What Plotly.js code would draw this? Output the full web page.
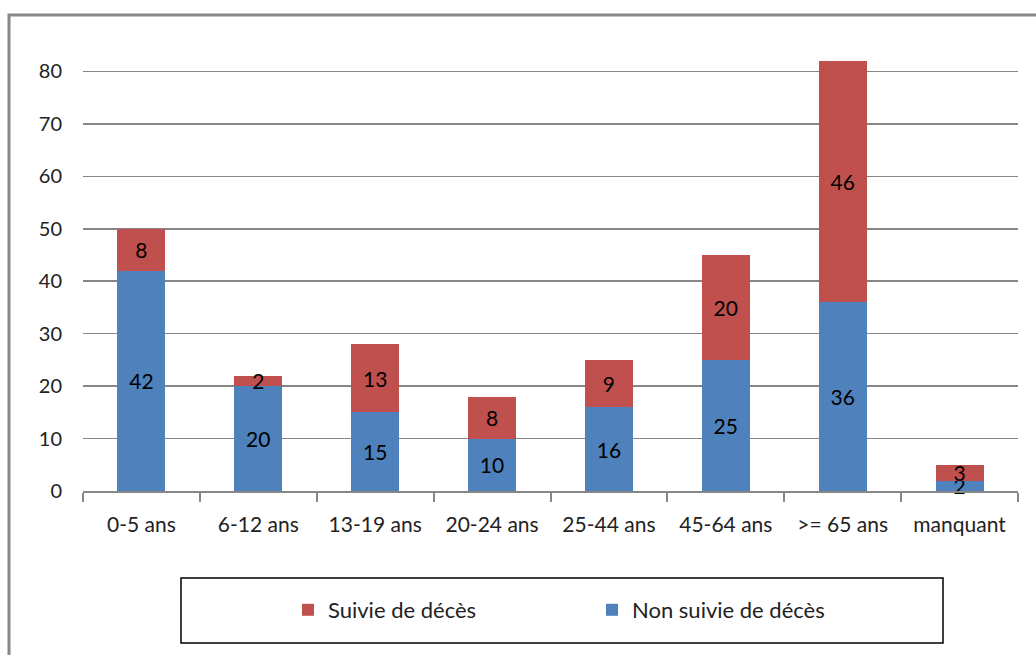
<!DOCTYPE html>
<html>
<head>
<meta charset="utf-8">
<script src="https://cdn.plot.ly/plotly-3.0.1.min.js"></script>
<style>html,body{margin:0;padding:0;background:#fff;}#chart{width:1036px;height:655px;}</style>
</head>
<body>
<div id="chart"></div>
<script>
const categories = ["0-5 ans", "6-12 ans", "13-19 ans", "20-24 ans", "25-44 ans", "45-64 ans", ">= 65 ans", "manquant"];
const nonSuivie = [42, 20, 15, 10, 16, 25, 36, 2];
const suivie = [8, 2, 13, 8, 9, 20, 46, 3];
const seriesNames = ["Non suivie de décès", "Suivie de décès"];
const yTicks = [0, 10, 20, 30, 40, 50, 60, 70, 80];

const FONT = "Lato, 'Liberation Sans', sans-serif";

const common = {
  type: 'bar',
  x: categories,
  textposition: 'inside',
  insidetextanchor: 'middle',
  constraintext: 'none',
  cliponaxis: false,
  textangle: 0,
  textfont: {family: FONT, size: 21, color: '#000'},
  hoverinfo: 'skip',
  width: 0.41
};

const traces = [
  Object.assign({}, common, {
    name: seriesNames[0], y: nonSuivie, text: nonSuivie.map(String),
    marker: {color: '#4F81BD'}
  }),
  Object.assign({}, common, {
    name: seriesNames[1], y: suivie, text: suivie.map(String),
    marker: {color: '#C0504D'}
  })
];

const W = 1036, H = 655, L = 83, R = 18, T = 40, B = 164;
const pw = W - L - R, ph = H - T - B;
const px = v => (v - L) / pw;
const py = v => (H - B - v) / ph;

const layout = {
  width: W, height: H,
  margin: {l: L, r: R, t: T, b: B, pad: 0},
  barmode: 'stack',
  paper_bgcolor: '#fff', plot_bgcolor: '#fff',
  font: {family: FONT, size: 18, color: '#222'},
  showlegend: true,
  legend: {
    orientation: 'h', traceorder: 'reversed',
    x: px(288), xanchor: 'left', y: py(610), yanchor: 'middle',
    entrywidth: 259, entrywidthmode: 'pixels',
    font: {family: FONT, size: 22, color: '#222'},
    bgcolor: 'rgba(0,0,0,0)', borderwidth: 0
  },
  xaxis: {
    type: 'category', showgrid: false, zeroline: false,
    showline: true, linecolor: '#868686', linewidth: 2,
    ticks: 'outside', tickson: 'boundaries', ticklen: 9, tickcolor: '#868686', tickwidth: 2,
    ticklabelstandoff: 14,
    tickfont: {family: FONT, size: 21, color: '#222'},
    fixedrange: true
  },
  yaxis: {
    range: [0, 86], tickvals: yTicks, ticktext: yTicks.map(String),
    showgrid: true, gridcolor: '#868686', gridwidth: 1.5,
    zeroline: false, showline: false, ticks: '',
    ticklabelstandoff: 20,
    tickfont: {family: FONT, size: 20, color: '#222'},
    fixedrange: true
  },
  shapes: [
    {type: 'rect', xref: 'paper', yref: 'paper', layer: 'above',
     x0: px(9), x1: px(1045), y0: py(15), y1: py(670),
     line: {color: '#888', width: 3}, fillcolor: 'rgba(0,0,0,0)'},
    {type: 'rect', xref: 'paper', yref: 'paper', layer: 'above',
     x0: px(181), x1: px(943), y0: py(578), y1: py(643),
     line: {color: '#000', width: 1.5}, fillcolor: 'rgba(0,0,0,0)'}
  ]
};

Plotly.newPlot('chart', traces, layout, {displayModeBar: false, staticPlot: true});
</script>
</body>
</html>
